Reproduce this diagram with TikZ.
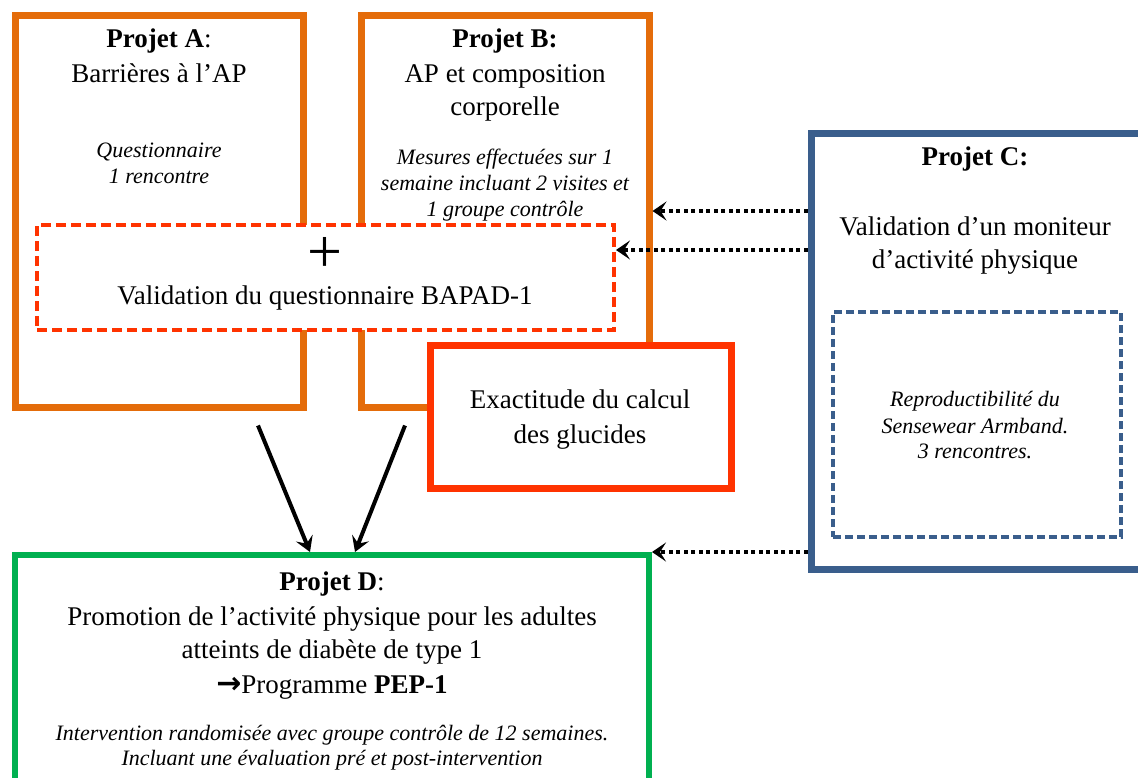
\documentclass[tikz,border=0pt]{standalone}
\usepackage{fontspec}
\setmainfont{Liberation Serif}
\newfontfamily\arrowfont{DejaVu Sans}
\usetikzlibrary{arrows.meta}
\definecolor{projorange}{HTML}{E46C0A}
\definecolor{projred}{HTML}{FF3300}
\definecolor{projblue}{HTML}{3A5E8C}
\definecolor{projgreen}{HTML}{00B050}
\begin{document}
\begin{tikzpicture}[x=1pt,y=-1pt,
  box/.style={draw=#1,rectangle,fill=white,inner sep=0pt},
  txt/.style={font=\fontsize{27}{32}\selectfont,anchor=base,inner sep=0pt},
  itx/.style={font=\fontsize{22}{26}\selectfont\itshape,anchor=base,inner sep=0pt},
  dotarrow/.style={line width=3.5pt,dash pattern=on 4pt off 3.5pt,
    -{Stealth[length=14pt,width=19pt,inset=6pt]}},
  solidarrow/.style={line width=4pt,-{Stealth[length=15pt,width=18pt,inset=6pt]}}]
\useasboundingbox (0,0) rectangle (1138,777);

% project boxes
\node[box=projorange,line width=7pt,minimum width=288pt,minimum height=392pt] (A) at (159,211) {};
\node[box=projorange,line width=7pt,minimum width=288pt,minimum height=392pt] (B) at (505,211) {};
\node[box=projred,line width=4pt,dash pattern=on 10pt off 5pt,minimum width=577pt,minimum height=105pt] (Q) at (325.5,277.5) {};
\node[box=projred,line width=7pt,minimum width=301pt,minimum height=143pt] (R) at (580.5,416.5) {};
\node[box=projblue,line width=7pt,minimum width=334pt,minimum height=436pt] (C) at (978,351) {};
\node[box=projblue,line width=3.5pt,dash pattern=on 8pt off 4pt,minimum width=288pt,minimum height=225pt] (Ci) at (977,424.5) {};
\node[box=projgreen,line width=6pt,minimum width=634pt,minimum height=230pt] (D) at (332,670) {};

% connectors
\coordinate (q2) at ([yshift=27.5pt]Q.east);
\draw[dotarrow] (C.west |- B.east) -- (B.east);
\draw[dotarrow] (C.west |- q2) -- (q2);
\draw[dotarrow] (C.west |- D.north east) -- (D.north east);
\draw[solidarrow] ([xshift=99pt,yshift=-15pt]A.south) -- ([xshift=-22pt]D.north);
\draw[solidarrow] ([xshift=-100pt,yshift=-15pt]B.south) -- ([xshift=23pt]D.north);

% texts of project A
\node[txt] (a1) at (159,47) {\textbf{Projet A}:};
\node[txt] (a2) at (159,82) {Barrières à l’AP};
\node[itx] (a3) at (159,157) {Questionnaire};
\node[itx] (a4) at (159,183) {1 rencontre};

% texts of project B
\node[txt] (b1) at (505,47) {\textbf{Projet B:}};
\node[txt] (b2) at (505,82) {AP et composition};
\node[txt] (b3) at (505,115) {corporelle};
\node[itx] (b4) at (505,164) {Mesures effectuées sur 1};
\node[itx] (b5) at (505,190) {semaine incluant 2 visites et};
\node[itx] (b6) at (505,216) {1 groupe contrôle};

% questionnaire validation
\node[font=\fontsize{62}{62}\selectfont,inner sep=0pt] (q0) at (325,255) {+};
\node[txt] (q1) at (325,304) {Validation du questionnaire BAPAD-1};

% carbohydrate counting
\node[txt] (r1) at (580,408) {Exactitude du calcul};
\node[txt] (r2) at (580,443) {des glucides};

% project C
\node[txt] (c1) at (975,165) {\textbf{Projet C:}};
\node[txt] (c2) at (975,235) {Validation d’un moniteur};
\node[txt] (c3) at (975,268) {d’activité physique};
\node[itx] (c4) at (975,406) {Reproductibilité du};
\node[itx] (c5) at (975,433) {Sensewear Armband.};
\node[itx] (c6) at (975,458) {3 rencontres.};

% project D
\node[txt] (d1) at (332,590) {\textbf{Projet D}:};
\node[txt] (d2) at (332,625) {Promotion de l’activité physique pour les adultes};
\node[txt] (d3) at (332,658) {atteints de diabète de type 1};
\node[txt] (d4) at (332,693) {{\arrowfont\bfseries\fontsize{30}{30}\selectfont →}Programme \textbf{PEP-1}};
\node[itx] (d5) at (332,740) {Intervention randomisée avec groupe contrôle de 12 semaines.};
\node[itx] (d6) at (332,765) {Incluant une évaluation pré et post-intervention};
\end{tikzpicture}
\end{document}
